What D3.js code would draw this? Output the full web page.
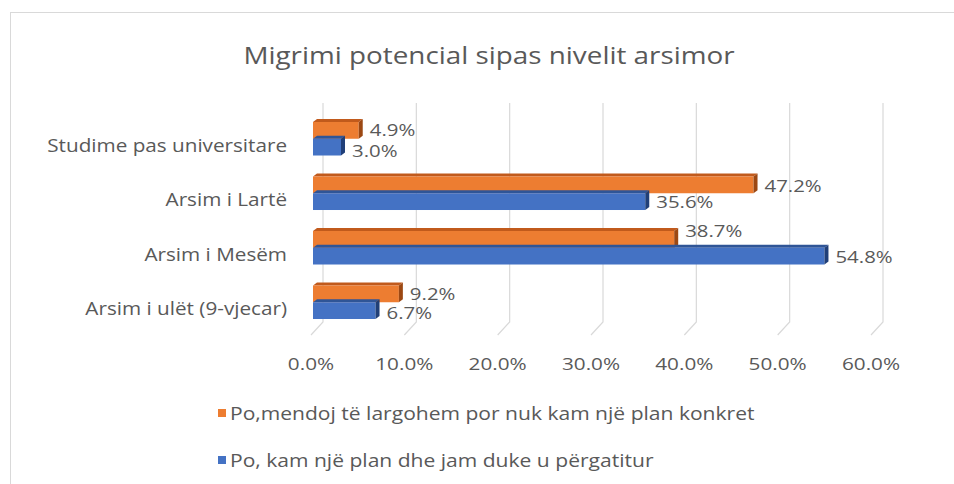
<!DOCTYPE html>
<html>
<head>
<meta charset="utf-8">
<script src="https://cdn.jsdelivr.net/npm/d3@7"></script>
<style>
  body { margin: 0; background: #fff; }
  text { font-family: "Open Sans", sans-serif; fill: #595959; }
</style>
</head>
<body>
<script>
// chart values
var categories = ["Studime pas universitare", "Arsim i Lartë", "Arsim i Mesëm", "Arsim i ulët (9-vjecar)"];
var seriesNames = ["Po,mendoj të largohem por nuk kam një plan konkret", "Po, kam një plan dhe jam duke u përgatitur"];
var noPlanValues = [4.9, 47.2, 38.7, 9.2];   // orange
var withPlanValues = [3.0, 35.6, 54.8, 6.7]; // blue
var tickValues = [0, 10, 20, 30, 40, 50, 60];
var chartTitle = "Migrimi potencial sipas nivelit arsimor";

var colors = ["#ED7D31", "#4472C4"];
var topColors = ["#c15a1c", "#2f5597"];
var sideColors = ["#9c4813", "#203f78"];

var W = 954, H = 484;
var svg = d3.select("body").append("svg").attr("width", W).attr("height", H);

// the source text is drawn wider than Open Sans, so stretch it a bit
function place(sel, fx, fy, sx) {
  return sel.attr("transform", function (d, i) {
    return "translate(" + fx(d, i) + "," + fy(d, i) + ") scale(" + sx + ",1)";
  });
}
function k(v) { return function () { return v; }; }

// outer chart frame
svg.append("rect").attr("x", 10.5).attr("y", 12.5).attr("width", 960).attr("height", 500)
  .attr("fill", "#fff").attr("stroke", "#d9d9d9");

place(svg.append("text"), k(489), k(55), 1.16)
  .attr("text-anchor", "middle").attr("dominant-baseline", "central")
  .style("font-size", "24px").text(chartTitle);

var x = d3.scaleLinear().domain([0, 60]).range([313, 873]);
var y = d3.scaleBand().domain(categories).range([111.5, 329.5]).paddingInner(0.385).paddingOuter(0.1925);
var ySeries = d3.scaleBand().domain([0, 1]).range([0, y.bandwidth()]);

// 3d depth of the plot
var depthX = 12, floorTop = 322, floorBottom = 335, wallTop = 103;

// gridlines with floor diagonal
var grid = svg.append("g").attr("fill", "none").attr("stroke", "#d9d9d9").attr("stroke-width", 1.2);
grid.selectAll("path").data(tickValues).enter().append("path")
  .attr("d", function (d) {
    var fx = x(d) - 2, bx = fx + depthX;
    return "M" + bx + "," + wallTop + "L" + bx + "," + floorTop + "L" + fx + "," + floorBottom;
  });

place(svg.append("g").selectAll("text").data(tickValues).enter().append("text"),
    function (d) { return x(d) - 2; }, k(364), 1.22)
  .attr("text-anchor", "middle").attr("dominant-baseline", "central")
  .style("font-size", "17px")
  .text(function (d) { return d.toFixed(1) + "%"; });

// category labels
place(svg.append("g").selectAll("text").data(categories).enter().append("text"),
    k(287), function (d) { return y(d) + y.bandwidth() / 2 + 6; }, 1.15)
  .attr("text-anchor", "end").attr("dominant-baseline", "central")
  .style("font-size", "18px")
  .text(function (d) { return d; });

var seriesData = [noPlanValues, withPlanValues];
var capX = 4, capY = 3;

// label nudges where the original labels were moved off the bar centre
var labelNudge = { "0-0": -1, "1-0": 3, "0-2": -9, "0-3": -1, "1-3": 2 };

seriesData.forEach(function (vals, s) {
  var g = svg.append("g");
  var rows = vals.map(function (v, i) { return { v: v, cat: categories[i], i: i }; });

  // top face
  g.selectAll("path.top").data(rows).enter().append("path").attr("class", "top")
    .attr("fill", topColors[s])
    .attr("d", function (d) {
      var y0 = y(d.cat) + ySeries(s), x0 = x(0), x1 = x(d.v);
      return "M" + x0 + "," + y0 + "L" + (x0 + capX) + "," + (y0 - capY) + "L" + (x1 + capX) + "," + (y0 - capY) + "L" + x1 + "," + y0 + "Z";
    });

  // front face
  g.selectAll("rect").data(rows).enter().append("rect")
    .attr("x", x(0))
    .attr("y", function (d) { return y(d.cat) + ySeries(s); })
    .attr("width", function (d) { return x(d.v) - x(0); })
    .attr("height", ySeries.bandwidth())
    .attr("fill", colors[s]);

  // right face
  g.selectAll("path.side").data(rows).enter().append("path").attr("class", "side")
    .attr("fill", sideColors[s])
    .attr("d", function (d) {
      var y0 = y(d.cat) + ySeries(s), y1 = y0 + ySeries.bandwidth(), x1 = x(d.v);
      return "M" + x1 + "," + y0 + "L" + (x1 + capX) + "," + (y0 - capY) + "L" + (x1 + capX) + "," + (y1 - capY) + "L" + x1 + "," + y1 + "Z";
    });

  place(g.selectAll("text").data(rows).enter().append("text"),
      function (d) { return x(d.v) + capX + 7; },
      function (d) { return y(d.cat) + ySeries(s) + ySeries.bandwidth() / 2 + (labelNudge[s + "-" + d.i] || 0); },
      1.2)
    .attr("dominant-baseline", "central")
    .style("font-size", "17px")
    .text(function (d) { return d.v.toFixed(1) + "%"; });
});

// legend
var legend = svg.append("g").selectAll("g").data(seriesNames).enter().append("g")
  .attr("transform", function (d, i) { return "translate(218," + (413 + i * 47) + ")"; });
legend.append("rect").attr("x", 0).attr("y", -4).attr("width", 8).attr("height", 8)
  .attr("fill", function (d, i) { return colors[i]; });
place(legend.append("text"), k(12), k(0), 1.17)
  .attr("dominant-baseline", "central").style("font-size", "18px")
  .text(function (d) { return d; });
</script>
</body>
</html>
